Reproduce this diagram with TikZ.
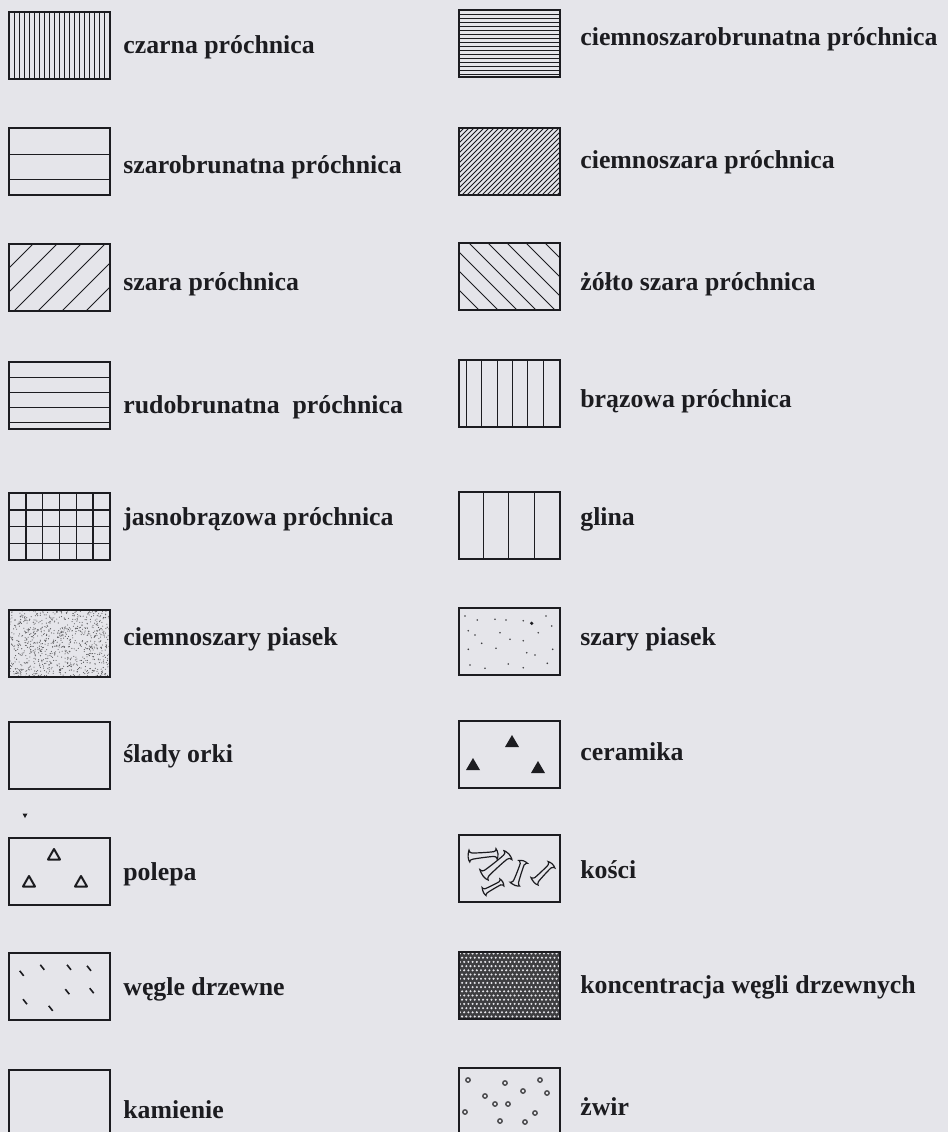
\documentclass[tikz,border=0pt]{standalone}
\usepackage{fontspec}
\setmainfont{Liberation Serif}
\usepackage{tikz}
\usetikzlibrary{positioning}
\definecolor{paper}{RGB}{229,229,234}
\definecolor{ink}{RGB}{28,28,32}

\tikzset{
  legbox/.style={draw=ink, line width=1.2pt, minimum width=50.5pt, minimum height=33.5pt, inner sep=0pt, outer sep=0pt, anchor=north west},
  leglabel/.style={anchor=base west, inner sep=0pt, text=ink, font=\bfseries\fontsize{12.9}{15}\selectfont},
  hatch/.style={draw=ink, line width=0.5pt},
  bone/.pic={\draw[hatch, line width=0.6pt] plot[smooth cycle] coordinates {(-1,0.05) (-0.92,0.38) (-0.72,0.22) (0.72,0.16) (0.92,0.36) (1,0) (0.9,-0.34) (0.72,-0.16) (-0.72,-0.2) (-0.9,-0.4)};},
  tri/.pic={\draw[hatch, line width=1pt, line join=round] (-6,4.5) -- (0,-6) -- (6,4.5) -- cycle;},
  ftri/.pic={\fill[ink] (-7,5) -- (0,-7) -- (7,5) -- cycle;}
}
% wypelnienie ramki: #1 nazwa wezla, #2 wzor (w px od lewego gornego rogu)
\newcommand{\wzor}[2]{\begin{scope}\clip (#1.north west) rectangle (#1.south east);
  \begin{scope}[shift={(#1.north west)}] #2 \end{scope}\end{scope}
  \draw[ink, line width=1.2pt] (#1.north west) rectangle (#1.south east);}

\begin{document}
\begin{tikzpicture}[x=0.5pt, y=-0.5pt]
\useasboundingbox (0,0) rectangle (948,1132);
\clip (0,0) rectangle (948,1132);
\fill[paper] (0,0) rectangle (948,1132);

% lewa kolumna
\node[legbox] (b-czarna) at (9,12) {};
\node[legbox] (b-szarobrun) at (9,128) {};
\node[legbox] (b-szara) at (9,244) {};
\node[legbox] (b-rudobrun) at (9,362) {};
\node[legbox] (b-jasnobraz) at (9,493) {};
\node[legbox] (b-ciemnypiasek) at (9,610) {};
\node[legbox] (b-orka) at (9,722) {};
\node[legbox] (b-polepa) at (9,838) {};
\node[legbox] (b-wegle) at (9,953) {};
\node[legbox] (b-kamienie) at (9,1070) {};

\wzor{b-czarna}{\foreach \i in {5,10,...,95} \draw[hatch] (\i,0) -- (\i,70);}
\wzor{b-szarobrun}{\foreach \j in {26,51} \draw[hatch] (0,\j) -- (101,\j);}
\wzor{b-szara}{\foreach \i in {-70,-46,...,100} \draw[hatch] (\i,70) -- (\i+70,0);}
\wzor{b-rudobrun}{\foreach \j in {15,30,45,60} \draw[hatch] (0,\j) -- (101,\j);}
\wzor{b-jasnobraz}{
  \foreach \i in {1,...,5} \draw[hatch, line width=0.7pt] ({\i*16.8},0) -- ({\i*16.8},70);
  \foreach \j in {1,2,3} \draw[hatch, line width=0.7pt] (0,{\j*16.8}) -- (101,{\j*16.8});}
\wzor{b-ciemnypiasek}{\pgfmathsetseed{17}
  \foreach \k in {1,...,900} \fill[ink!75] ({101*rnd},{69*rnd}) circle (0.55);}
\wzor{b-polepa}{\foreach \p in {(45,17),(20,44),(72,44)} \path \p pic {tri};}
\wzor{b-wegle}{\foreach \p in {(12.7,20.3),(33.3,14.3),(60,14.3),(80,15.3),(16,48.7),(41.7,55.3),(58.3,38.7),(82.7,37.7)}
  \draw[hatch, line width=0.8pt] \p +(-2,-2.5) -- +(2,2.5);}

\node[leglabel] (l-czarna) at (123,53) {czarna próchnica};
\node[leglabel] (l-szarobrun) at (123,173) {szarobrunatna próchnica};
\node[leglabel] (l-szara) at (123,290) {szara próchnica};
\node[leglabel] (l-rudobrun) at (123,413) {rudobrunatna~ próchnica};
\node[leglabel] (l-jasnobraz) at (123,525) {jasnobrązowa próchnica};
\node[leglabel] (l-ciemnypiasek) at (123,645) {ciemnoszary piasek};
\node[leglabel] (l-orka) at (123,762) {ślady orki};
\node[leglabel] (l-polepa) at (123,880) {polepa};
\node[leglabel] (l-wegle) at (123,995) {węgle drzewne};
\node[leglabel] (l-kamienie) at (123,1118) {kamienie};

\fill[ink] (22.5,813.5) -- (27.5,813.5) -- (25,818) -- cycle;

% prawa kolumna
\node[legbox] (b-ciemnoszarobrun) at (459,10) {};
\node[legbox] (b-ciemnoszara) at (459,128) {};
\node[legbox] (b-zoltoszara) at (459,243) {};
\node[legbox] (b-brazowa) at (459,360) {};
\node[legbox] (b-glina) at (459,492) {};
\node[legbox] (b-szarypiasek) at (459,608) {};
\node[legbox] (b-ceramika) at (459,721) {};
\node[legbox] (b-kosci) at (459,835) {};
\node[legbox, fill=ink!85] (b-koncentracja) at (459,952) {};
\node[legbox] (b-zwir) at (459,1068) {};

\wzor{b-ciemnoszarobrun}{\foreach \j in {4,8,...,64} \draw[hatch] (0,\j) -- (101,\j);}
\wzor{b-ciemnoszara}{\foreach \i in {-70,-65,...,100} \draw[hatch] (\i,70) -- (\i+70,0);}
\wzor{b-zoltoszara}{\foreach \i in {-66,-47,...,100} \draw[hatch] (\i,0) -- (\i+70,70);}
\wzor{b-brazowa}{\foreach \i in {7.5,22.8,...,85} \draw[hatch] (\i,0) -- (\i,70);}
\wzor{b-glina}{\foreach \i in {24,49.5,75} \draw[hatch] (\i,0) -- (\i,70);}
\wzor{b-szarypiasek}{
  \foreach \p in {(6,8),(18.3,12),(36,11.3),(47,12),(64.3,12.7),(87,8),(92.7,18),(9.3,22.7),(16,27),(41,24.7),(79.3,24.7),(51,31.3),(64.3,32.7),(22.7,35.3),(37,40.3),(9.3,41.3),(93.7,41.3),(67.7,44.7),(76,47),(11,57),(26,60.3),(49.3,56),(64.3,59.7),(88.3,55.3)}
    \fill[ink!85] \p circle (0.9);
  \fill[ink] (72.7,15.3) circle (1.8);}
\wzor{b-ceramika}{\foreach \p in {(53,21),(14,44),(79,47)} \path \p pic {ftri};}
\wzor{b-kosci}{
  \path (24,20) pic[rotate=5, scale=15] {bone};
  \path (37,30) pic[rotate=40, scale=17] {bone};
  \path (34,52) pic[rotate=28, scale=11] {bone};
  \path (60,38) pic[rotate=70, scale=13] {bone};
  \path (84,38) pic[rotate=45, scale=13] {bone};}
\wzor{b-koncentracja}{\foreach \r in {0,...,16} \foreach \c in {0,...,24}
  \fill[paper] ({\c*4.2+mod(\r,2)*2.1+1},{\r*4.2+1.5}) circle (1.15);}
\wzor{b-zwir}{\foreach \p in {(46,15),(81,12),(64,23),(88,25),(26,28),(36,36),(49,36),(76,45),(41,53),(66,54),(9,12),(6,44)}
  \draw[ink!80, line width=0.7pt] \p circle (2.2);}

\node[leglabel] (l-ciemnoszarobrun) at (580,45) {ciemnoszarobrunatna próchnica};
\node[leglabel] (l-ciemnoszara) at (580,168) {ciemnoszara próchnica};
\node[leglabel] (l-zoltoszara) at (580,290) {żółto szara próchnica};
\node[leglabel] (l-brazowa) at (580,407) {brązowa próchnica};
\node[leglabel] (l-glina) at (580,525) {glina};
\node[leglabel] (l-szarypiasek) at (580,645) {szary piasek};
\node[leglabel] (l-ceramika) at (580,760) {ceramika};
\node[leglabel] (l-kosci) at (580,878) {kości};
\node[leglabel] (l-koncentracja) at (580,993) {koncentracja węgli drzewnych};
\node[leglabel] (l-zwir) at (580,1115) {żwir};
\end{tikzpicture}
\end{document}
